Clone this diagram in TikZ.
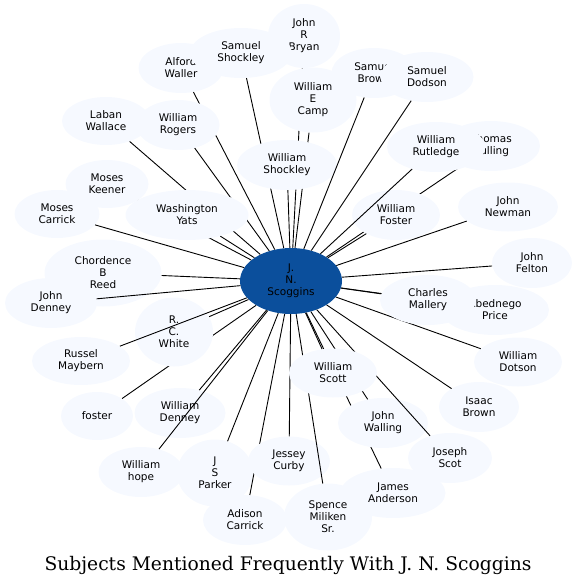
\documentclass[tikz,border=0pt]{standalone}
\usepackage{fontspec}
\setmainfont{DejaVu Sans}
\newfontfamily\ndfont{DejaVu Sans}
\newfontfamily\ttlfont{DejaVu Serif}
\usetikzlibrary{shapes.geometric}
\definecolor{nodefill}{HTML}{F6F9FF}
\definecolor{hubfill}{HTML}{0B4F9C}
\begin{document}
\begin{tikzpicture}[x=1pt,y=-1pt,
  nd/.style={ellipse, fill=nodefill, draw=none, inner sep=0pt, align=center,
    text=black, font=\ndfont\fontsize{10.5}{12}\selectfont},
  hubnode/.style={nd, fill=hubfill},
  ln/.style={draw=black, line width=0.9pt},
  ttl/.style={font=\ttlfont\fontsize{18.7}{22}\selectfont, text=black, inner sep=0pt}]
\useasboundingbox (0,0) rectangle (577,587);
\node[hubnode, minimum width=102pt, minimum height=66pt] (hub) at (291,281) {J.\\N.\\Scoggins};

\node[nd, minimum width=98pt, minimum height=50pt] (thomas) at (491,146) {Thomas\\Culling};
\draw[ln] (hub) -- (thomas);
\node[nd, minimum width=88pt, minimum height=50pt] (wfoster) at (396,215) {William\\Foster};
\draw[ln] (hub) -- (wfoster);
\node[nd, minimum width=98pt, minimum height=50pt] (rutledge) at (436,147) {William\\Rutledge};
\draw[ln] (hub) -- (rutledge);
\node[nd, minimum width=72pt, minimum height=64pt] (bryan) at (304,36) {John\\R\\Bryan};
\draw[ln] (hub) -- (bryan);
\node[nd, minimum width=87pt, minimum height=65pt] (camp) at (313,100) {William\\E\\Camp};
\draw[ln] (hub) -- (camp);
\node[nd, minimum width=85pt, minimum height=50pt] (waller) at (181,68) {Alford\\Waller};
\draw[ln] (hub) -- (waller);
\node[nd, minimum width=102pt, minimum height=50pt] (sshock) at (241,53) {Samuel\\Shockley};
\draw[ln] (hub) -- (sshock);
\node[nd, minimum width=100pt, minimum height=50pt] (wshock) at (287,165) {William\\Shockley};
\draw[ln] (hub) -- (wshock);
\node[nd, minimum width=85pt, minimum height=50pt] (sbrown) at (374,73) {Samuel\\Brown};
\draw[ln] (hub) -- (sbrown);
\node[nd, minimum width=93pt, minimum height=50pt] (dodson) at (427,77) {Samuel\\Dodson};
\draw[ln] (hub) -- (dodson);
\node[nd, minimum width=83pt, minimum height=50pt] (rogers) at (178,125) {William\\Rogers};
\draw[ln] (hub) -- (rogers);
\node[nd, minimum width=88pt, minimum height=48pt] (laban) at (106,121) {Laban\\Wallace};
\draw[ln] (hub) -- (laban);
\node[nd, minimum width=83pt, minimum height=48pt] (keener) at (107,184) {Moses\\Keener};
\draw[ln] (hub) -- (keener);
\node[nd, minimum width=123pt, minimum height=50pt] (yats) at (187,215) {Washington\\Yats};
\draw[ln] (hub) -- (yats);
\node[nd, minimum width=85pt, minimum height=48pt] (mcarrick) at (57,214) {Moses\\Carrick};
\draw[ln] (hub) -- (mcarrick);
\node[nd, minimum width=117pt, minimum height=67pt] (chordence) at (103,273) {Chordence\\B\\Reed};
\draw[ln] (hub) -- (chordence);
\node[nd, minimum width=92pt, minimum height=50pt] (jdenney) at (51,303) {John\\Denney};
\draw[ln] (hub) -- (jdenney);
\node[nd, minimum width=72pt, minimum height=48pt] (lfoster) at (97,416) {foster};
\draw[ln] (hub) -- (lfoster);
\node[nd, minimum width=78pt, minimum height=69pt] (white) at (174,332) {R.\\C.\\White};
\draw[ln] (hub) -- (white);
\node[nd, minimum width=98pt, minimum height=48pt] (maybern) at (81,361) {Russel\\Maybern};
\draw[ln] (hub) -- (maybern);
\node[nd, minimum width=91pt, minimum height=50pt] (wdenney) at (180,413) {William\\Denney};
\draw[ln] (hub) -- (wdenney);
\node[nd, minimum width=85pt, minimum height=50pt] (hope) at (141,472) {William\\hope};
\draw[ln] (hub) -- (hope);
\node[nd, minimum width=76pt, minimum height=67pt] (parker) at (215,473) {J\\S\\Parker};
\draw[ln] (hub) -- (parker);
\node[nd, minimum width=84pt, minimum height=50pt] (adison) at (245,520) {Adison\\Carrick};
\draw[ln] (hub) -- (adison);
\node[nd, minimum width=82pt, minimum height=49pt] (curby) at (289,461) {Jessey\\Curby};
\draw[ln] (hub) -- (curby);
\node[nd, minimum width=105pt, minimum height=50pt] (anderson) at (393,493) {James\\Anderson};
\draw[ln] (hub) -- (anderson);
\node[nd, minimum width=88pt, minimum height=67pt] (spence) at (328,517) {Spence\\Miliken\\Sr.};
\draw[ln] (hub) -- (spence);
\node[nd, minimum width=90pt, minimum height=50pt] (walling) at (383,423) {John\\Walling};
\draw[ln] (hub) -- (walling);
\node[nd, minimum width=84pt, minimum height=50pt] (jscot) at (450,458) {Joseph\\Scot};
\draw[ln] (hub) -- (jscot);
\node[nd, minimum width=88pt, minimum height=49pt] (wscott) at (333,373) {William\\Scott};
\draw[ln] (hub) -- (wscott);
\node[nd, minimum width=80pt, minimum height=50pt] (isaac) at (479,407) {Isaac\\Brown};
\draw[ln] (hub) -- (isaac);
\node[nd, minimum width=88pt, minimum height=49pt] (dotson) at (518,362) {William\\Dotson};
\draw[ln] (hub) -- (dotson);
\node[nd, minimum width=108pt, minimum height=50pt] (price) at (495,310) {Abednego\\Price};
\draw[ln] (hub) -- (price);
\node[nd, minimum width=96pt, minimum height=50pt] (mallery) at (428,300) {Charles\\Mallery};
\draw[ln] (hub) -- (mallery);
\node[nd, minimum width=80pt, minimum height=50pt] (felton) at (532,263) {John\\Felton};
\draw[ln] (hub) -- (felton);
\node[nd, minimum width=100pt, minimum height=49pt] (newman) at (508,207) {John\\Newman};
\draw[ln] (hub) -- (newman);

\node[ttl] (title) at (288,565) {Subjects Mentioned Frequently With J. N. Scoggins};
\end{tikzpicture}
\end{document}
